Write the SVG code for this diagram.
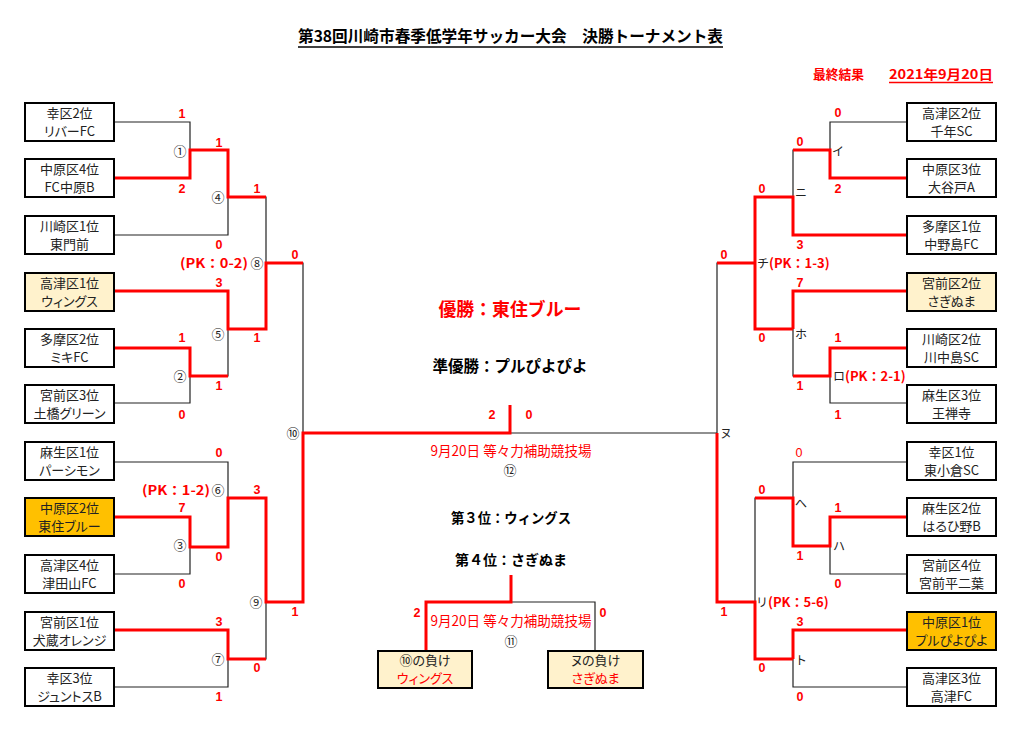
<svg xmlns="http://www.w3.org/2000/svg" width="1021" height="733" viewBox="0 0 1021 733">
<style>
.bg{fill:#fff}
.box{fill:#fff;stroke:#000;stroke-width:2}
.lt{fill:#FFF2CC}
.or{fill:#FFC000}
.t{font-family:"Noto Sans CJK JP","Noto Sans",sans-serif;font-size:13px;fill:#222;text-anchor:middle;font-feature-settings:"palt"}
.t2{font-family:"Noto Sans CJK JP","Noto Sans",sans-serif;font-size:12px;fill:#222;text-anchor:middle;font-feature-settings:"palt"}
.s{font-family:"Liberation Sans",Arial,sans-serif;font-size:12.5px;font-weight:bold;fill:#f00;text-anchor:middle}
.c{font-family:"Noto Sans CJK JP",sans-serif;font-size:13px;fill:#222;text-anchor:middle}
.k{font-family:"Noto Sans CJK JP",sans-serif;font-size:12px;fill:#222}
.pk{font-family:"Noto Sans CJK JP",sans-serif;font-size:13px;font-weight:bold;fill:#f00}
.blk{fill:none;stroke:#222;stroke-width:1.2}
.red{fill:none;stroke:#f00;stroke-width:3}
.h{font-family:"Noto Sans CJK JP",sans-serif;font-weight:bold;text-anchor:middle}
.v{font-family:"Noto Sans CJK JP",sans-serif;font-size:14px;fill:#f00;text-anchor:middle}
</style>
<rect class="bg" x="0" y="0" width="1021" height="733"/>

<g id="header">
<text x="298" y="42" font-family="Noto Sans CJK JP,sans-serif" font-size="16" font-weight="bold" fill="#000" textLength="425" lengthAdjust="spacingAndGlyphs">第38回川崎市春季低学年サッカー大会　決勝トーナメント表</text>
<line x1="298" y1="47" x2="723" y2="47" stroke="#000" stroke-width="1.5"/>
<text x="813" y="79" font-family="Noto Sans CJK JP,sans-serif" font-size="13" font-weight="bold" fill="#f00" textLength="51" lengthAdjust="spacingAndGlyphs">最終結果</text>
<text x="889" y="79" font-family="Noto Sans CJK JP,sans-serif" font-size="13" font-weight="bold" fill="#f00" textLength="104" lengthAdjust="spacingAndGlyphs">2021年9月20日</text>
<line x1="889" y1="82.5" x2="993" y2="82.5" stroke="#f00" stroke-width="1.5"/>
</g>

<g id="connectors">
<path class="blk" d="M114,122H190V178H114"/>
<path class="blk" d="M190,150H228V235H114"/>
<path class="blk" d="M114,348H190V403H114"/>
<path class="blk" d="M114,291H228V376H190"/>
<path class="blk" d="M228,197H266V329H228"/>
<path class="blk" d="M266,263H303V602H266"/>
<path class="blk" d="M114,462H228V547H190"/>
<path class="blk" d="M114,517H190V574H114"/>
<path class="blk" d="M114,630H228V687H114"/>
<path class="blk" d="M228,498H266V659H228"/>
<path class="blk" d="M907,122H830V178H907"/>
<path class="blk" d="M830,150H793V235H907"/>
<path class="blk" d="M907,348H830V403H907"/>
<path class="blk" d="M907,291H793V376H830"/>
<path class="blk" d="M793,197H755V329H793"/>
<path class="blk" d="M755,263H717V602H755"/>
<path class="blk" d="M907,517H830V574H907"/>
<path class="blk" d="M907,462H793V546H830"/>
<path class="blk" d="M907,630H793V687H907"/>
<path class="blk" d="M793,498H755V659H793"/>
<path class="blk" d="M510,433H717"/>
<path class="blk" d="M511,602H595V651"/>
<path class="red" d="M114,178H190V150H228V197H266"/>
<path class="red" d="M114,291H228V329H266V263H303"/>
<path class="red" d="M114,348H190V376H228"/>
<path class="red" d="M114,517H190V547H228V498H266V602H303V433H510V405"/>
<path class="red" d="M114,630H228V659H266"/>
<path class="red" d="M907,178H830V150H793"/>
<path class="red" d="M907,235H793V197H755V329H793"/>
<path class="red" d="M755,263H717"/>
<path class="red" d="M907,291H793V329"/>
<path class="red" d="M907,348H830V376H793"/>
<path class="red" d="M717,433V602H755V659H793"/>
<path class="red" d="M907,517H830V546H793V498H755"/>
<path class="red" d="M907,630H793V659"/>
<path class="red" d="M511,575V602H426V651"/>
</g>

<g id="team-L1"><rect class="box" x="25" y="103" width="89" height="38"/><text class="t" x="69.5" y="118">幸区2位</text><text class="t" x="69.5" y="136">リバーFC</text></g>
<g id="team-L2"><rect class="box" x="25" y="159" width="89" height="38"/><text class="t" x="69.5" y="174">中原区4位</text><text class="t" x="69.5" y="192">FC中原B</text></g>
<g id="team-L3"><rect class="box" x="25" y="216" width="89" height="38"/><text class="t" x="69.5" y="231">川崎区1位</text><text class="t" x="69.5" y="249">東門前</text></g>
<g id="team-L4"><rect class="box lt" x="25" y="273" width="89" height="38"/><text class="t" x="69.5" y="288">高津区1位</text><text class="t" x="69.5" y="306">ウィングス</text></g>
<g id="team-L5"><rect class="box" x="25" y="329" width="89" height="38"/><text class="t" x="69.5" y="344">多摩区2位</text><text class="t" x="69.5" y="362">ミキFC</text></g>
<g id="team-L6"><rect class="box" x="25" y="385" width="89" height="38"/><text class="t" x="69.5" y="400">宮前区3位</text><text class="t" x="69.5" y="418">土橋グリーン</text></g>
<g id="team-L7"><rect class="box" x="25" y="442" width="89" height="38"/><text class="t" x="69.5" y="457">麻生区1位</text><text class="t" x="69.5" y="475">パーシモン</text></g>
<g id="team-L8"><rect class="box or" x="25" y="498" width="89" height="38"/><text class="t" x="69.5" y="513">中原区2位</text><text class="t" x="69.5" y="531">東住ブルー</text></g>
<g id="team-L9"><rect class="box" x="25" y="555" width="89" height="38"/><text class="t" x="69.5" y="570">高津区4位</text><text class="t" x="69.5" y="588">津田山FC</text></g>
<g id="team-L10"><rect class="box" x="25" y="612" width="89" height="38"/><text class="t" x="69.5" y="627">宮前区1位</text><text class="t" x="69.5" y="645">犬蔵オレンジ</text></g>
<g id="team-L11"><rect class="box" x="25" y="668" width="89" height="38"/><text class="t" x="69.5" y="683">幸区3位</text><text class="t" x="69.5" y="701">ジュントスB</text></g>

<g id="team-R1"><rect class="box" x="907" y="103" width="89" height="38"/><text class="t" x="951.5" y="118">高津区2位</text><text class="t" x="951.5" y="136">千年SC</text></g>
<g id="team-R2"><rect class="box" x="907" y="159" width="89" height="38"/><text class="t" x="951.5" y="174">中原区3位</text><text class="t" x="951.5" y="192">大谷戸A</text></g>
<g id="team-R3"><rect class="box" x="907" y="216" width="89" height="38"/><text class="t" x="951.5" y="231">多摩区1位</text><text class="t" x="951.5" y="249">中野島FC</text></g>
<g id="team-R4"><rect class="box lt" x="907" y="273" width="89" height="38"/><text class="t" x="951.5" y="288">宮前区2位</text><text class="t" x="951.5" y="306">さぎぬま</text></g>
<g id="team-R5"><rect class="box" x="907" y="329" width="89" height="38"/><text class="t" x="951.5" y="344">川崎区2位</text><text class="t" x="951.5" y="362">川中島SC</text></g>
<g id="team-R6"><rect class="box" x="907" y="385" width="89" height="38"/><text class="t" x="951.5" y="400">麻生区3位</text><text class="t" x="951.5" y="418">王禅寺</text></g>
<g id="team-R7"><rect class="box" x="907" y="442" width="89" height="38"/><text class="t" x="951.5" y="457">幸区1位</text><text class="t" x="951.5" y="475">東小倉SC</text></g>
<g id="team-R8"><rect class="box" x="907" y="498" width="89" height="38"/><text class="t" x="951.5" y="513">麻生区2位</text><text class="t" x="951.5" y="531">はるひ野B</text></g>
<g id="team-R9"><rect class="box" x="907" y="555" width="89" height="38"/><text class="t" x="951.5" y="570">宮前区4位</text><text class="t" x="951.5" y="588">宮前平二葉</text></g>
<g id="team-R10"><rect class="box or" x="907" y="612" width="89" height="38"/><text class="t" x="951.5" y="627">中原区1位</text><text class="t" x="951.5" y="645">プルぴよぴよ</text></g>
<g id="team-R11"><rect class="box" x="907" y="668" width="89" height="38"/><text class="t" x="951.5" y="683">高津区3位</text><text class="t" x="951.5" y="701">高津FC</text></g>

<g id="loser-10"><rect class="box lt" x="378" y="651" width="94" height="37"/><text class="t" x="425" y="665">⑩の負け</text><text class="t" x="425" y="683" style="fill:#f00">ウィングス</text></g>
<g id="loser-nu"><rect class="box lt" x="548" y="651" width="95" height="37"/><text class="t" x="595.5" y="665">ヌの負け</text><text class="t" x="595.5" y="683" style="fill:#f00">さぎぬま</text></g>

<g id="scores-left">
<text class="s" x="182" y="118">1</text>
<text class="s" x="182" y="193">2</text>
<text class="s" x="219" y="147">1</text>
<text class="s" x="219" y="249">0</text>
<text class="s" x="257" y="193">1</text>
<text class="s" x="295" y="259">0</text>
<text class="s" x="219" y="287">3</text>
<text class="s" x="257" y="342">1</text>
<text class="s" x="182" y="342">1</text>
<text class="s" x="219" y="390">1</text>
<text class="s" x="182" y="419">0</text>
<text class="s" x="219" y="457">0</text>
<text class="s" x="257" y="494">3</text>
<text class="s" x="182" y="512">7</text>
<text class="s" x="219" y="561">0</text>
<text class="s" x="182" y="588">0</text>
<text class="s" x="295" y="616">1</text>
<text class="s" x="219" y="626">3</text>
<text class="s" x="257" y="672">0</text>
<text class="s" x="219" y="701">1</text>
<text class="pk" x="180" y="268" textLength="68" lengthAdjust="spacingAndGlyphs">(PK：0-2)</text>
<text class="pk" x="142" y="495" textLength="68" lengthAdjust="spacingAndGlyphs">(PK：1-2)</text>
</g>

<g id="match-labels-left">
<text class="c" x="180" y="155.5">①</text>
<text class="c" x="180" y="380.5">②</text>
<text class="c" x="180" y="549.5">③</text>
<text class="c" x="218" y="201.5">④</text>
<text class="c" x="218" y="338.5">⑤</text>
<text class="c" x="218" y="494.5">⑥</text>
<text class="c" x="218" y="663.5">⑦</text>
<text class="c" x="257" y="267.5">⑧</text>
<text class="c" x="256" y="606.5">⑨</text>
<text class="c" x="293" y="437.5">⑩</text>
</g>

<g id="scores-right">
<text class="s" x="838" y="117">0</text>
<text class="s" x="800" y="146">0</text>
<text class="s" x="838" y="193">2</text>
<text class="s" x="762" y="193">0</text>
<text class="s" x="800" y="249">3</text>
<text class="s" x="724" y="259">0</text>
<text class="s" x="800" y="287">7</text>
<text class="s" x="762" y="342">0</text>
<text class="s" x="838" y="342">1</text>
<text class="s" x="800" y="390">1</text>
<text class="s" x="838" y="419">1</text>
<text class="s" x="799" y="457" style="font-weight:normal">0</text>
<text class="s" x="762" y="494">0</text>
<text class="s" x="838" y="512">1</text>
<text class="s" x="800" y="560">1</text>
<text class="s" x="838" y="588">0</text>
<text class="s" x="724" y="616">1</text>
<text class="s" x="800" y="626">3</text>
<text class="s" x="762" y="672">0</text>
<text class="s" x="800" y="701">0</text>
</g>

<g id="match-labels-right">
<text class="k" x="832" y="156">イ</text>
<text class="k" x="795" y="197">ニ</text>
<text class="k" x="757" y="268">チ<tspan class="pk">(PK：1-3)</tspan></text>
<text class="k" x="795" y="339">ホ</text>
<text class="k" x="833" y="381">ロ<tspan class="pk">(PK：2-1)</tspan></text>
<text class="k" x="720" y="438">ヌ</text>
<text class="k" x="795" y="508">へ</text>
<text class="k" x="833" y="551">ハ</text>
<text class="k" x="756" y="607">リ<tspan class="pk">(PK：5-6)</tspan></text>
<text class="k" x="795" y="665">ト</text>
</g>

<g id="final">
<text class="h" x="510" y="316" font-size="18" fill="#f00" textLength="143" lengthAdjust="spacingAndGlyphs">優勝：東住ブルー</text>
<text class="h" x="510" y="372" font-size="16" fill="#000" textLength="155" lengthAdjust="spacingAndGlyphs">準優勝：プルぴよぴよ</text>
<text class="s" x="492" y="419">2</text>
<text class="s" x="529" y="419">0</text>
<text class="v" x="511" y="456" textLength="161" lengthAdjust="spacingAndGlyphs">9月20日 等々力補助競技場</text>
<text class="c" x="510" y="475" font-size="11">⑫</text>
</g>

<g id="third-place">
<text class="h" x="511" y="523" font-size="14" fill="#000" textLength="120" lengthAdjust="spacingAndGlyphs">第３位：ウィングス</text>
<text class="h" x="511" y="565" font-size="14" fill="#000" textLength="112" lengthAdjust="spacingAndGlyphs">第４位：さぎぬま</text>
<text class="s" x="417" y="617">2</text>
<text class="s" x="603" y="617">0</text>
<text class="v" x="511" y="626" textLength="161" lengthAdjust="spacingAndGlyphs">9月20日 等々力補助競技場</text>
<text class="c" x="511" y="646">⑪</text>
</g>
</svg>
